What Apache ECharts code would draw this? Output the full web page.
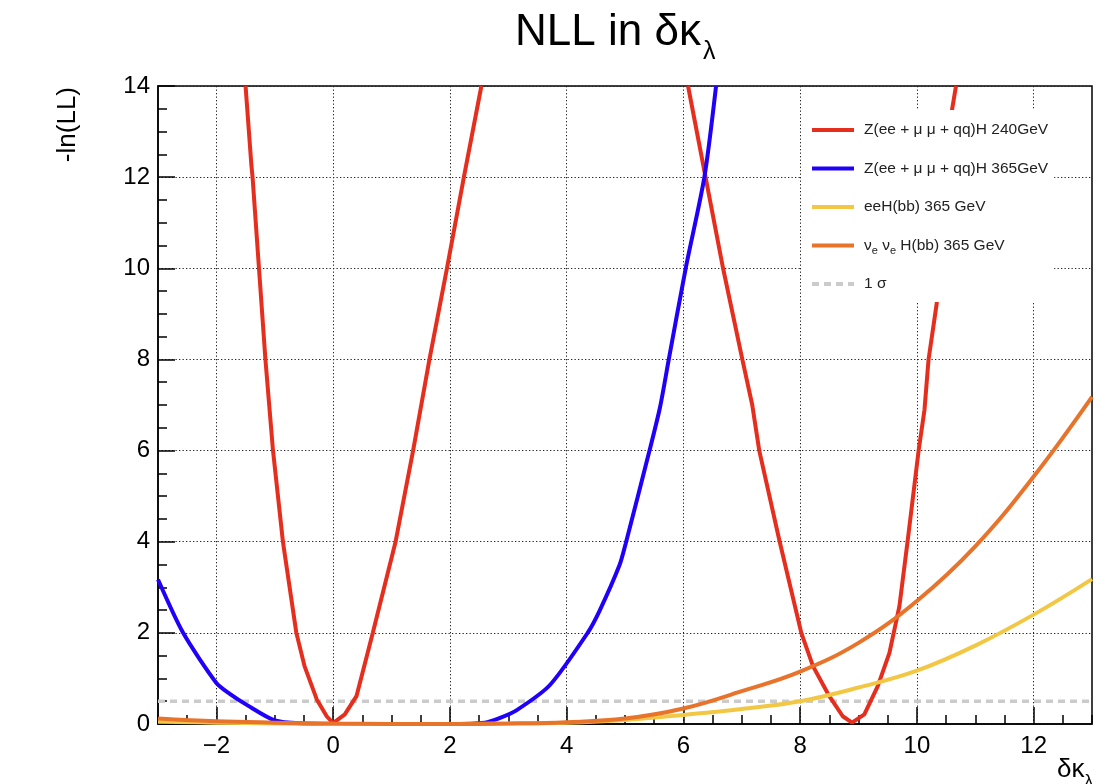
<!DOCTYPE html>
<html>
<head>
<meta charset="utf-8">
<script src="https://cdn.jsdelivr.net/npm/echarts@6/dist/echarts.min.js"></script>
<style>
  html, body { margin: 0; padding: 0; background: #fff; }
  #chart { width: 1112px; height: 784px; }
</style>
</head>
<body>
<div id="chart"></div>
<script>
// Axis ranges and tick positions
const xRange = [-3, 13];
const yRange = [0, 14];
const xMajorTicks = [-2, 0, 2, 4, 6, 8, 10, 12];
const sigmaLevel = 0.5;

// Legend names
const nameZH240 = 'Z(ee + \u03bc \u03bc + qq)H 240GeV';
const nameZH365 = 'Z(ee + \u03bc \u03bc + qq)H 365GeV';
const nameEEH = 'eeH(bb) 365 GeV';
const nameNuNuH = '\u03bd_e \u03bd_e H(bb) 365 GeV';
const nameSigma = '1 \u03c3';

// -ln(LL) scans, [delta kappa_lambda, value]; '-' breaks the line where the scan leaves the frame
const zh240 = [
  [-1.50, 14], [-1.40, 12.26], [-1.38, 12], [-1.27, 10], [-1.16, 8], [-1.03, 6],
  [-0.86, 4], [-0.63, 2], [-0.49, 1.27], [-0.28, 0.54], [-0.11, 0.17], [0, 0.02],
  [0.2, 0.21], [0.4, 0.61], [0.68, 2], [1.07, 4], [1.37, 6], [1.65, 8],
  [1.95, 10], [2.24, 12], [2.54, 14], [4.3, '-'],
  [6.08, 14], [6.38, 12], [6.68, 10], [7.01, 8], [7.18, 7], [7.30, 6],
  [7.65, 4], [8.02, 2], [8.22, 1.27], [8.50, 0.61], [8.73, 0.17], [8.89, 0.03],
  [9.10, 0.21], [9.33, 0.83], [9.53, 1.56], [9.70, 2.58], [9.84, 4], [10.03, 6],
  [10.13, 6.89], [10.20, 8], [10.34, 9.23], [10.60, 13.46], [10.67, 14]
];
const zh365 = [
  [-3, 3.17], [-2.57, 2], [-2, 0.9], [-1.77, 0.66], [-1.48, 0.42], [-1.0, 0.08],
  [-0.5, 0.01], [0, 0], [1, 0], [2, 0], [2.6, 0.03], [2.85, 0.13], [3.14, 0.3],
  [3.71, 0.85], [4.36, 2], [4.57, 2.5], [4.91, 3.5], [5.01, 3.95], [5.42, 6],
  [5.60, 6.95], [5.75, 8], [6.04, 10], [6.36, 12], [6.56, 14]
];
const eeHbb = [
  [-3, 0.05], [-2, 0.03], [-1, 0.01], [0, 0], [1, 0], [2, 0], [3, 0.01], [4, 0.03],
  [5, 0.09], [6, 0.2], [7, 0.33], [8, 0.5], [9, 0.8], [10, 1.17], [11, 1.72],
  [12, 2.4], [13, 3.18]
];
const nunuHbb = [
  [-3, 0.12], [-2, 0.06], [-1, 0.03], [0, 0.01], [1, 0], [2, 0], [3, 0.01], [4, 0.04],
  [5, 0.12], [6, 0.34], [7, 0.72], [8, 1.15], [9, 1.78], [10, 2.7], [11, 3.9],
  [12, 5.43], [13, 7.18]
];

const FONT = '"Liberation Sans", Arial, Helvetica, sans-serif';
const minus = v => (v < 0 ? '\u2212' + Math.abs(v) : String(v));
const gridDots = { color: '#222', width: 1, type: [1.3, 2.2] };

const chart = echarts.init(document.getElementById('chart'), null, { renderer: 'canvas' });

function lineSeries(name, data, color, extra) {
  return Object.assign({
    name: name,
    type: 'line',
    data: data,
    symbol: 'none',
    showSymbol: false,
    connectNulls: false,
    animation: false,
    lineStyle: { color: color, width: 4 },
    itemStyle: { color: color },
    clip: true
  }, extra || {});
}

chart.setOption({
  backgroundColor: '#fff',
  animation: false,
  title: {
    text: '{a|NLL in \u03b4\u03ba}{b|\u03bb}',
    left: 515,
    top: 1,
    padding: 0,
    textStyle: {
      fontWeight: 'normal',
      rich: {
        a: { fontFamily: FONT, fontSize: 44, fontWeight: 'normal', color: '#000', lineHeight: 64 },
        b: { fontFamily: FONT, fontSize: 25, fontWeight: 'normal', color: '#000', lineHeight: 25, verticalAlign: 'bottom', padding: [0, 0, 0, 2] }
      }
    }
  },
  grid: {
    left: 158, right: 20, top: 86, bottom: 60,
    show: true, borderColor: '#000', borderWidth: 1.5, backgroundColor: 'transparent'
  },
  legend: {
    orient: 'vertical',
    left: 802,
    top: 110,
    padding: [9, 6, 7, 8],
    backgroundColor: '#fff',
    itemWidth: 42,
    itemHeight: 22,
    itemGap: 16.5,
    selectedMode: false,
    itemStyle: { opacity: 0 },
    lineStyle: { width: 4 },
    data: [nameZH240, nameZH365, nameEEH, nameNuNuH, nameSigma],
    formatter: n => n.replace(/_e/g, '{s|e}'),
    textStyle: {
      fontFamily: FONT, fontSize: 15.5, color: '#222', lineHeight: 22, padding: [0, 0, 0, 5],
      rich: { s: { fontFamily: FONT, fontSize: 11, color: '#222', lineHeight: 11, verticalAlign: 'bottom' } }
    }
  },
  xAxis: [
    {
      type: 'value', min: xRange[0], max: xRange[1], interval: 0.5, position: 'bottom',
      axisLine: { show: true, onZero: false, lineStyle: { color: '#000', width: 1.5 } },
      axisTick: { show: true, inside: true, length: 9, lineStyle: { color: '#000', width: 1.5 } },
      axisLabel: { show: false },
      splitLine: { show: false }
    },
    {
      type: 'value', min: xRange[0], max: xRange[1], position: 'bottom',
      axisLine: { show: false, onZero: false },
      axisTick: { show: true, inside: true, length: 17, customValues: xMajorTicks, lineStyle: { color: '#000', width: 1.5 } },
      axisLabel: { show: true, customValues: xMajorTicks, formatter: minus, fontFamily: FONT, fontSize: 24, color: '#000', margin: 10 },
      splitLine: { show: true, lineStyle: gridDots }
    }
  ],
  yAxis: {
    type: 'value', min: yRange[0], max: yRange[1], interval: 2,
    axisLine: { show: true, onZero: false, lineStyle: { color: '#000', width: 1.5 } },
    axisTick: { show: true, inside: true, length: 17, lineStyle: { color: '#000', width: 1.5 } },
    minorTick: { show: true, splitNumber: 4, length: 9, lineStyle: { color: '#000', width: 1.5 } },
    axisLabel: { fontFamily: FONT, fontSize: 24, color: '#000', margin: 8 },
    splitLine: { show: true, lineStyle: gridDots }
  },
  graphic: [
    {
      type: 'text', x: 68, y: 87, rotation: Math.PI / 2,
      style: { text: '-ln(LL)', font: '26px ' + FONT, fill: '#000', align: 'right', verticalAlign: 'middle' }
    },
    {
      type: 'text', x: 1093, y: 750,
      style: {
        text: '{a|\u03b4\u03ba}{b|\u03bb}', align: 'right', verticalAlign: 'top',
        rich: {
          a: { font: '26px ' + FONT, fill: '#000', lineHeight: 40 },
          b: { font: '17px ' + FONT, fill: '#000', lineHeight: 17, verticalAlign: 'bottom' }
        }
      }
    }
  ],
  series: [
    lineSeries(nameSigma, [[xRange[0], sigmaLevel], [xRange[1], sigmaLevel]], '#cbcbcb',
      { lineStyle: { color: '#cbcbcb', width: 3.5, type: [7, 5] }, z: 1 }),
    lineSeries(nameZH240, zh240, '#e62e1e'),
    lineSeries(nameZH365, zh365, '#1f00fa', { smooth: 0.25 }),
    lineSeries(nameEEH, eeHbb, '#f2c744', { smooth: 0.4 }),
    lineSeries(nameNuNuH, nunuHbb, '#e8732a', { smooth: 0.4 })
  ]
});
</script>
</body>
</html>
